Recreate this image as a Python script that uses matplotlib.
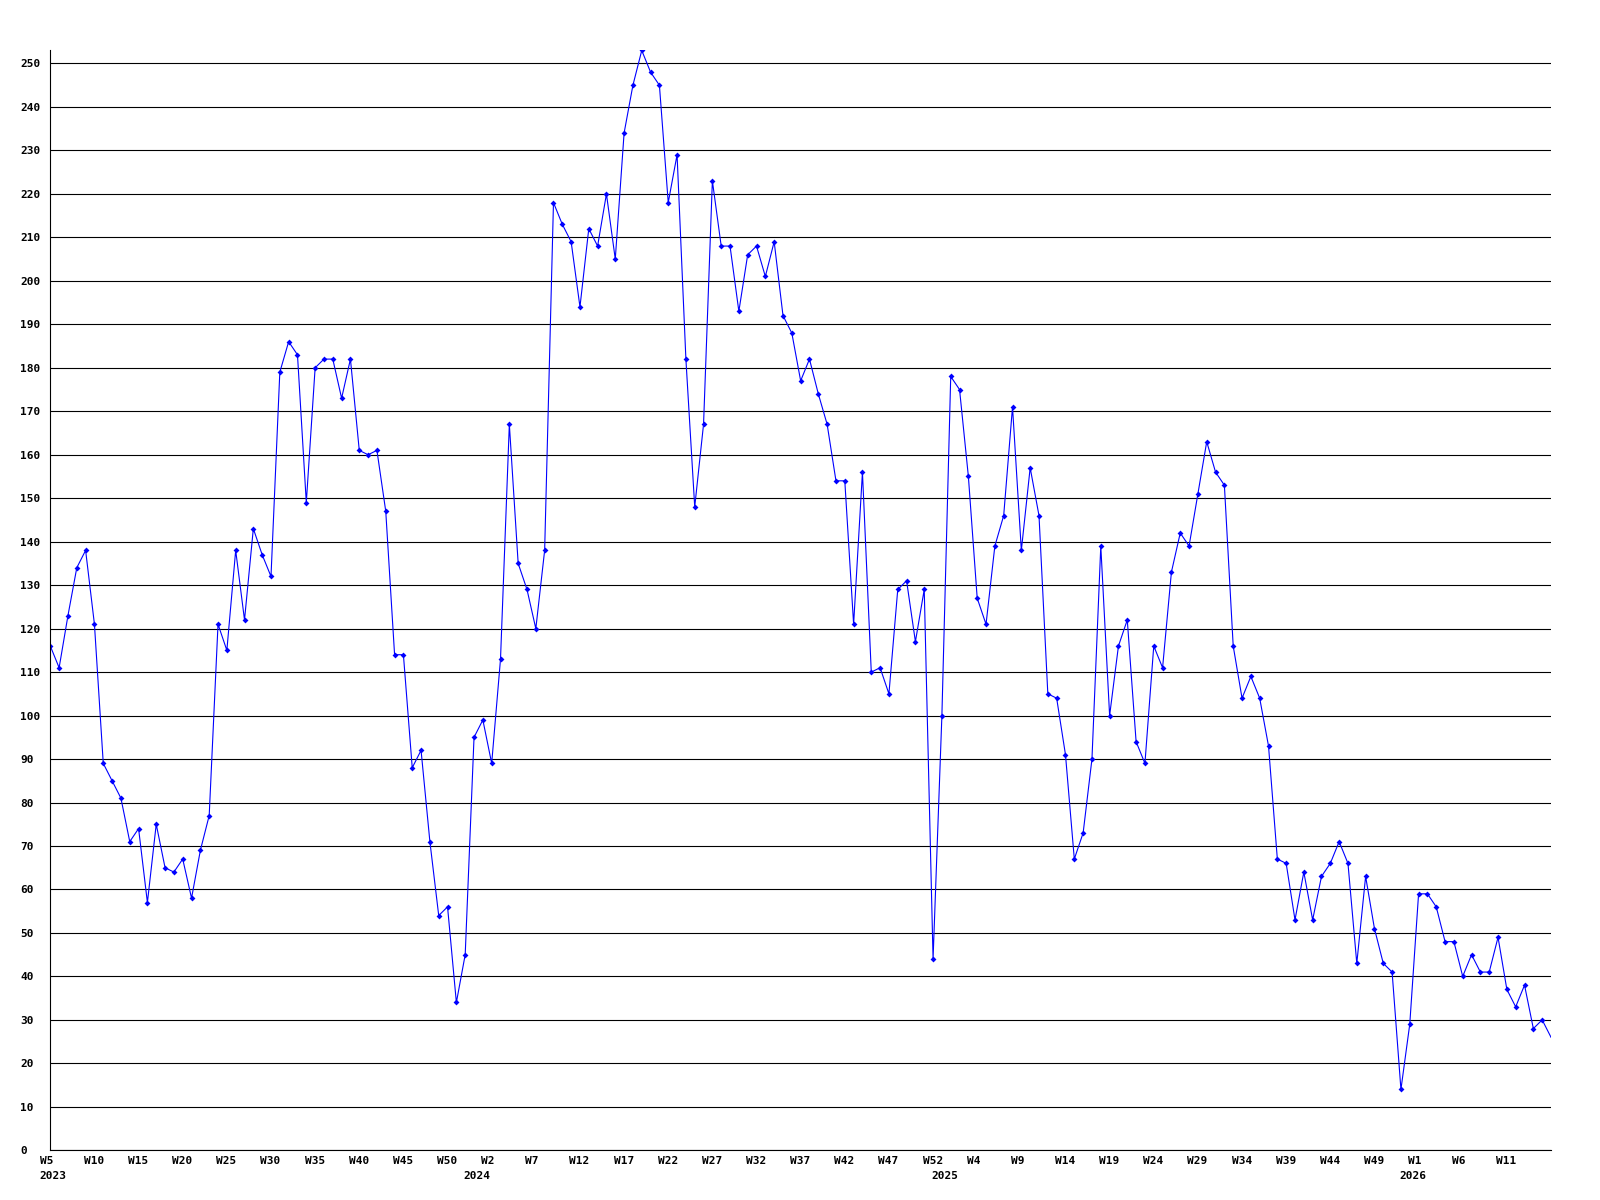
import matplotlib

matplotlib.use("Agg")
import matplotlib.pyplot as plt  # noqa: E402
from matplotlib.transforms import ScaledTranslation  # noqa: E402

plt.rcParams["font.family"] = ["DejaVu Sans Mono"]
plt.rcParams["font.weight"] = "bold"
plt.rcParams["font.size"] = 8

# weekly values, first point is 2023 W5
values = [
    116, 111, 123, 134, 138, 121, 89, 85, 81, 71,
    74, 57, 75, 65, 64, 67, 58, 69, 77, 121,
    115, 138, 122, 143, 137, 132, 179, 186, 183, 149,
    180, 182, 182, 173, 182, 161, 160, 161, 147, 114,
    114, 88, 92, 71, 54, 56, 34, 45, 95, 99,
    89, 113, 167, 135, 129, 120, 138, 218, 213, 209,
    194, 212, 208, 220, 205, 234, 245, 253, 248, 245,
    218, 229, 182, 148, 167, 223, 208, 208, 193, 206,
    208, 201, 209, 192, 188, 177, 182, 174, 167, 154,
    154, 121, 156, 110, 111, 105, 129, 131, 117, 129,
    44, 100, 178, 175, 155, 127, 121, 139, 146, 171,
    138, 157, 146, 105, 104, 91, 67, 73, 90, 139,
    100, 116, 122, 94, 89, 116, 111, 133, 142, 139,
    151, 163, 156, 153, 116, 104, 109, 104, 93, 67,
    66, 53, 64, 53, 63, 66, 71, 66, 43, 63,
    51, 43, 41, 14, 29, 59, 59, 56, 48, 48,
    40, 45, 41, 41, 49, 37, 33, 38, 28, 30,
    26,
]

# every fifth week gets a label
week_labels = [
    "W5", "W10", "W15", "W20", "W25", "W30", "W35", "W40", "W45", "W50",
    "W2", "W7", "W12", "W17", "W22", "W27", "W32", "W37", "W42", "W47", "W52",
    "W4", "W9", "W14", "W19", "W24", "W29", "W34", "W39", "W44", "W49",
    "W1", "W6", "W11",
]
week_ticks = list(range(0, 5 * len(week_labels), 5))

# first week index of each year
year_ticks = [0, 48, 101, 154]
year_labels = ["2023", "2024", "2025", "2026"]

W, H = 1600, 1200
fig = plt.figure(figsize=(W / 100, H / 100), dpi=100)
ax = fig.add_axes([50.3 / W, 1 - 1150.3 / H, (1551 - 50.3) / W, (1150.3 - 50) / H])

ax.plot(range(len(values)), values, color="#0000ff", linewidth=0.8,
        marker="D", markersize=3, markeredgewidth=0,
        markevery=slice(0, len(values) - 1))

ax.set_xlim(0, 170.0)
ax.set_ylim(0, 253.1)
ax.set_yticks(range(0, 251, 10))
ax.yaxis.grid(True, color="black", linewidth=0.8)
ax.set_axisbelow(True)
for side in ("top", "right"):
    ax.spines[side].set_visible(False)
for side in ("left", "bottom"):
    ax.spines[side].set_linewidth(0.8)

ax.tick_params(which="both", length=0)
ax.tick_params(axis="y", pad=21.6)
for lab in ax.get_yticklabels():
    lab.set_ha("left")

ax.xaxis.remove_overlapping_locs = False
ax.set_xticks(week_ticks, week_labels)
ax.set_xticks(year_ticks, year_labels, minor=True)
ax.tick_params(axis="x", which="major", pad=4)
ax.tick_params(axis="x", which="minor", pad=14.8)

# labels start a little left of their tick
shift = ScaledTranslation(-10.5 / 100, 0, fig.dpi_scale_trans)
for lab in ax.get_xticklabels(which="both"):
    lab.set_ha("left")
    lab.set_transform(lab.get_transform() + shift)

fig.savefig("out.png", dpi=100, facecolor="white")
